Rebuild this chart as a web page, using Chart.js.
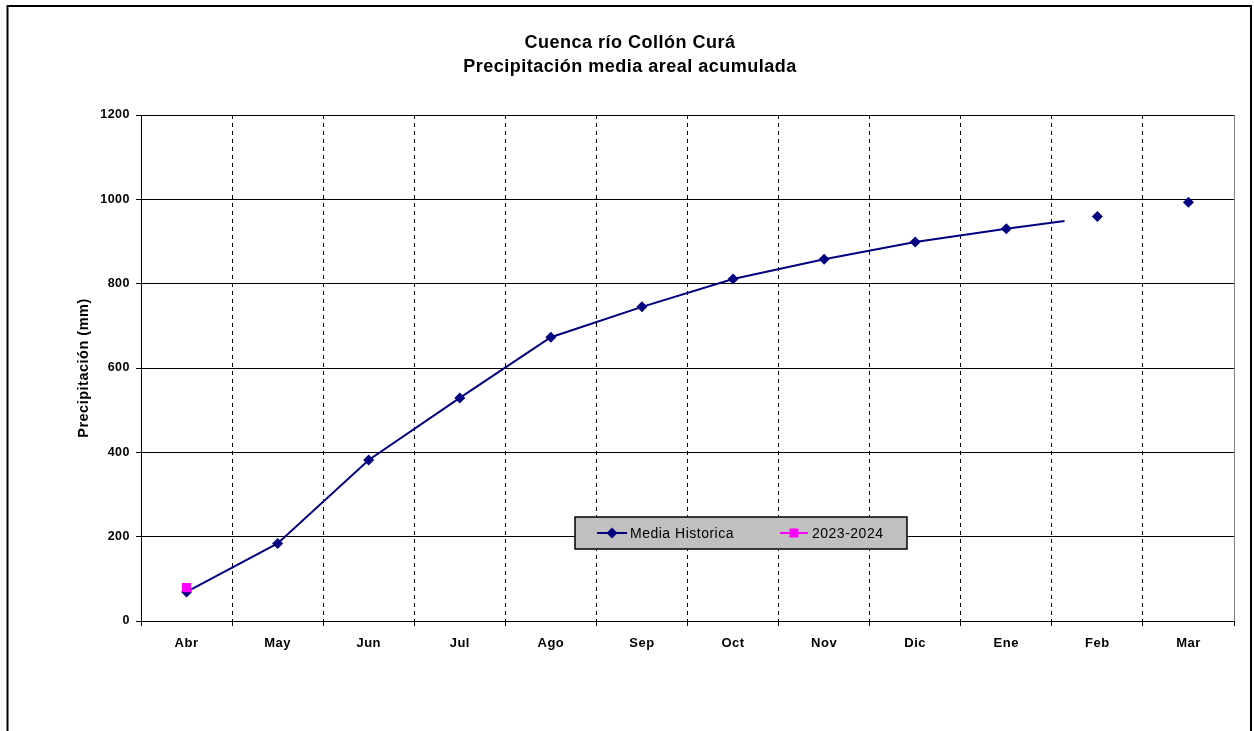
<!DOCTYPE html>
<html>
<head>
<meta charset="utf-8">
<script src="https://cdn.jsdelivr.net/npm/chart.js@4.4.1/dist/chart.umd.min.js"></script>
<style>
  html, body { margin: 0; padding: 0; background: #fff; }
  #wrap { width: 1254px; height: 731px; }
</style>
</head>
<body>
<div id="wrap"><canvas id="chart" width="1254" height="731"></canvas></div>
<script>
// data
const months = ['Abr', 'May', 'Jun', 'Jul', 'Ago', 'Sep', 'Oct', 'Nov', 'Dic', 'Ene', 'Feb', 'Mar'];
const mediaHistorica = [69, 184, 382, 529, 673, 745, 811, 858, 899, 930, 959, 993];
const temporada = [79, null, null, null, null, null, null, null, null, null, null, null];
const yMin = 0;
const yMax = 1200;
const yStep = 200;
const titleLines = ['Cuenca río Collón Curá', 'Precipitación media areal acumulada'];
const yTitle = 'Precipitación (mm)';
const seriesNames = ['Media Historica', '2023-2024'];

// the historic line stops part way into the Ene-Feb segment, Feb-Mar unlinked
const lineStopIndex = 10;
const lastSegmentShare = 0.64;

const FONT = 'Arial, "Liberation Sans", sans-serif';
const NAVY = '#000080';
const MAGENTA = '#ff00ff';

// Excel draws its text a bit looser than the canvas default
function setSpacing(chart) {
  if (chart.ctx) {
    chart.ctx.letterSpacing = '0.5px';
  }
}

const framePlugin = {
  id: 'frame',
  beforeUpdate(chart) {
    setSpacing(chart);
  },
  beforeDraw(chart) {
    setSpacing(chart);
    const ctx = chart.ctx;
    ctx.save();
    ctx.fillStyle = '#ffffff';
    ctx.fillRect(0, 0, chart.width, chart.height);
    ctx.strokeStyle = '#000000';
    ctx.lineWidth = 2;
    ctx.strokeRect(7.5, 6, 1243.5, 800);
    ctx.fillStyle = '#000000';
    ctx.textAlign = 'center';
    ctx.textBaseline = 'middle';
    ctx.font = 'bold 18px ' + FONT;
    titleLines.forEach((line, i) => {
      ctx.fillText(line, 630, 43 + i * 24);
    });
    ctx.restore();
  },
  afterDraw(chart) {
    const area = chart.chartArea;
    const ctx = chart.ctx;
    ctx.save();
    ctx.strokeStyle = '#808080';
    ctx.lineWidth = 1;
    ctx.beginPath();
    ctx.moveTo(Math.round(area.right) + 0.5, area.top);
    ctx.lineTo(Math.round(area.right) + 0.5, area.bottom);
    ctx.stroke();
    ctx.restore();
  },
};

const legendBoxPlugin = {
  id: 'legendBox',
  afterDatasetsDraw(chart) {
    const ctx = chart.ctx;
    const x0 = 575;
    const y0 = 517;
    const w = 332;
    const h = 32;
    const cy = y0 + h / 2;
    ctx.save();
    ctx.fillStyle = '#c0c0c0';
    ctx.fillRect(x0, y0, w, h);
    ctx.strokeStyle = '#000000';
    ctx.lineWidth = 1.5;
    ctx.strokeRect(x0, y0, w, h);

    // Media Historica sample
    ctx.strokeStyle = NAVY;
    ctx.lineWidth = 2;
    ctx.beginPath();
    ctx.moveTo(597, cy);
    ctx.lineTo(627, cy);
    ctx.stroke();
    ctx.fillStyle = NAVY;
    ctx.beginPath();
    ctx.moveTo(612, cy - 5.5);
    ctx.lineTo(617.5, cy);
    ctx.lineTo(612, cy + 5.5);
    ctx.lineTo(606.5, cy);
    ctx.closePath();
    ctx.fill();

    // 2023-2024 sample
    ctx.strokeStyle = MAGENTA;
    ctx.beginPath();
    ctx.moveTo(780, cy);
    ctx.lineTo(808, cy);
    ctx.stroke();
    ctx.fillStyle = MAGENTA;
    ctx.fillRect(789.5, cy - 4.5, 9, 9);

    ctx.fillStyle = '#000000';
    ctx.font = '14px ' + FONT;
    ctx.textAlign = 'left';
    ctx.textBaseline = 'middle';
    ctx.fillText(seriesNames[0], 630, cy + 1);
    ctx.fillText(seriesNames[1], 812, cy + 1);
    ctx.restore();
  },
};

function partialDash(ctx) {
  const dx = ctx.p1.x - ctx.p0.x;
  const dy = ctx.p1.y - ctx.p0.y;
  const len = Math.sqrt(dx * dx + dy * dy);
  return [len * lastSegmentShare, 4000];
}

const chart = new Chart(document.getElementById('chart'), {
  type: 'line',
  data: {
    labels: months,
    datasets: [
      {
        label: seriesNames[0],
        data: mediaHistorica,
        order: 1,
        borderColor: NAVY,
        backgroundColor: NAVY,
        borderWidth: 2,
        tension: 0,
        pointStyle: 'rectRot',
        pointRadius: 5.5,
        pointBorderWidth: 0,
        pointBackgroundColor: NAVY,
        segment: {
          borderColor: (c) => (c.p0DataIndex >= lineStopIndex ? 'rgba(0,0,0,0)' : undefined),
          borderDash: (c) => (c.p0DataIndex === lineStopIndex - 1 ? partialDash(c) : undefined),
        },
      },
      {
        label: seriesNames[1],
        data: temporada,
        order: 0,
        borderColor: MAGENTA,
        backgroundColor: MAGENTA,
        borderWidth: 2,
        pointStyle: 'rect',
        pointRadius: 6.5,
        pointBorderWidth: 0,
        pointBackgroundColor: MAGENTA,
      },
    ],
  },
  options: {
    responsive: false,
    animation: false,
    devicePixelRatio: 1,
    layout: { padding: { left: 0, top: 115, right: 20, bottom: 0 } },
    plugins: {
      legend: { display: false },
      title: { display: false },
      tooltip: { enabled: false },
    },
    scales: {
      x: {
        offset: true,
        afterFit(scale) { scale.height = 110; },
        grid: {
          offset: true,
          color: '#000000',
          lineWidth: 1,
          drawTicks: true,
          tickLength: 5,
          tickColor: '#000000',
          tickBorderDash: [],
        },
        border: { display: true, color: '#000000', width: 1, dash: [4, 4] },
        ticks: {
          color: '#000000',
          padding: 10,
          maxRotation: 0,
          font: { family: FONT, size: 13, weight: 'bold' },
        },
      },
      y: {
        min: yMin,
        max: yMax,
        afterFit(scale) { scale.width = 141; },
        grid: {
          color: '#000000',
          lineWidth: 1,
          tickLength: 5,
          tickColor: '#000000',
        },
        border: { display: true, color: '#000000', width: 1 },
        ticks: {
          stepSize: yStep,
          color: '#000000',
          padding: 6,
          callback: (value) => String(value),
          font: { family: FONT, size: 12.5, weight: 'bold' },
        },
        title: {
          display: true,
          text: yTitle,
          color: '#000000',
          padding: { top: 75, bottom: 0 },
          font: { family: FONT, size: 14.5, weight: 'bold' },
        },
      },
    },
  },
  plugins: [framePlugin, legendBoxPlugin],
});
</script>
</body>
</html>
